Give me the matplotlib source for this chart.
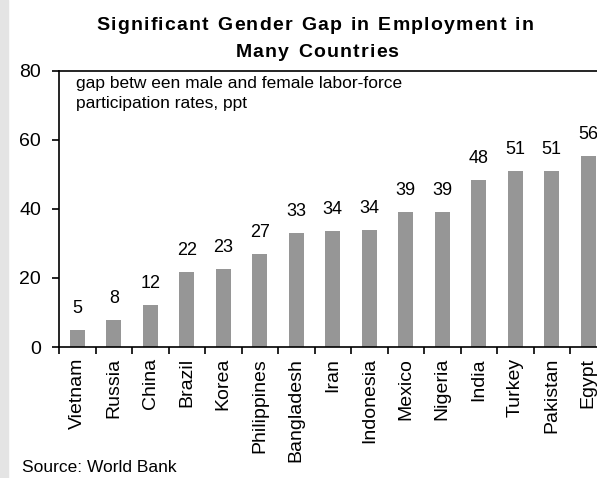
import matplotlib
matplotlib.use('Agg')
import matplotlib.pyplot as plt
import numpy as np
from matplotlib.patches import Rectangle
from matplotlib.ticker import FixedLocator, MultipleLocator

plt.rcParams['font.family'] = ['Liberation Sans', 'DejaVu Sans']

countries = ['Vietnam', 'Russia', 'China', 'Brazil', 'Korea', 'Philippines',
             'Bangladesh', 'Iran', 'Indonesia', 'Mexico', 'Nigeria', 'India',
             'Turkey', 'Pakistan', 'Egypt']
gap = [4.9, 7.8, 12.2, 21.7, 22.6, 26.9, 33.0, 33.6, 33.9, 39.1, 39.1,
       48.3, 51.0, 51.0, 55.3]
gap_labels = ['5', '8', '12', '22', '23', '27', '33', '34', '34', '39', '39',
              '48', '51', '51', '56']

W, H = 597, 478
fig = plt.figure(figsize=(W / 100, H / 100), dpi=100)
renderer = fig.canvas.get_renderer()


def spaced_text(s, xc, yb, spacing, **kw):
    # draw a line of text centred on xc (pixels) with extra letter spacing
    widths = []
    for ch in s:
        t = fig.text(0, 0, ch if ch != ' ' else 'i', **kw)
        w = t.get_window_extent(renderer).width
        if ch == ' ':
            w *= 1.25
        t.remove()
        widths.append(w)
    total = sum(widths) + spacing * (len(s) - 1)
    xp = xc - total / 2
    for ch, w in zip(s, widths):
        if ch != ' ':
            fig.text(xp / W, 1 - yb / H, ch, ha='left', va='baseline', **kw)
        xp += w + spacing


# light gray strip at the left edge
fig.patches.append(Rectangle((0, 0), 8 / W, 1, transform=fig.transFigure,
                             color='#e4e4e4', zorder=0))

# right end of the axes runs past the picture edge, as in the original
ax = fig.add_axes([59 / W, 1 - 347 / H, 547.5 / W, 276.5 / H])
x = np.arange(len(countries))
ax.bar(x, gap, width=0.41, color='#969696', zorder=2)

for xi, v, lab in zip(x, gap, gap_labels):
    ax.annotate(lab, (xi, v), xytext=(0, 12), textcoords='offset points',
                ha='center', va='baseline', fontsize=13)

ax.set_xlim(-0.5, len(countries) - 0.5)
ax.set_ylim(0, 80)
ax.yaxis.set_major_locator(MultipleLocator(20))

# labels at centres, tick marks at category boundaries
ax.set_xticks(x)
ax.set_xticklabels(countries, rotation=90, fontsize=14)
ax.tick_params(axis='x', which='major', length=0, pad=8)
ax.xaxis.set_minor_locator(FixedLocator(np.arange(-0.5, len(countries), 1)))
ax.tick_params(axis='x', which='minor', length=5, width=1.2, direction='out')
ax.tick_params(axis='y', length=5, width=1.2, direction='out', pad=8,
               labelsize=14)

for side in ['left', 'bottom', 'top']:
    ax.spines[side].set_linewidth(1.2)
ax.spines['right'].set_visible(False)

fig.text(76 / W, 1 - 88 / H, 'gap betw een male and female labor-force',
         ha='left', va='baseline', fontsize=12.5)
fig.text(76 / W, 1 - 108 / H, 'participation rates, ppt',
         ha='left', va='baseline', fontsize=12.5)

spaced_text('Significant Gender Gap in Employment in', 315, 30, 1.2,
            fontsize=14, fontweight='bold')
spaced_text('Many Countries', 317, 57, 1.2, fontsize=14, fontweight='bold')

fig.text(22 / W, 1 - 472 / H, 'Source: World Bank', ha='left',
         va='baseline', fontsize=12.5)

fig.savefig('out.png', dpi=100)
